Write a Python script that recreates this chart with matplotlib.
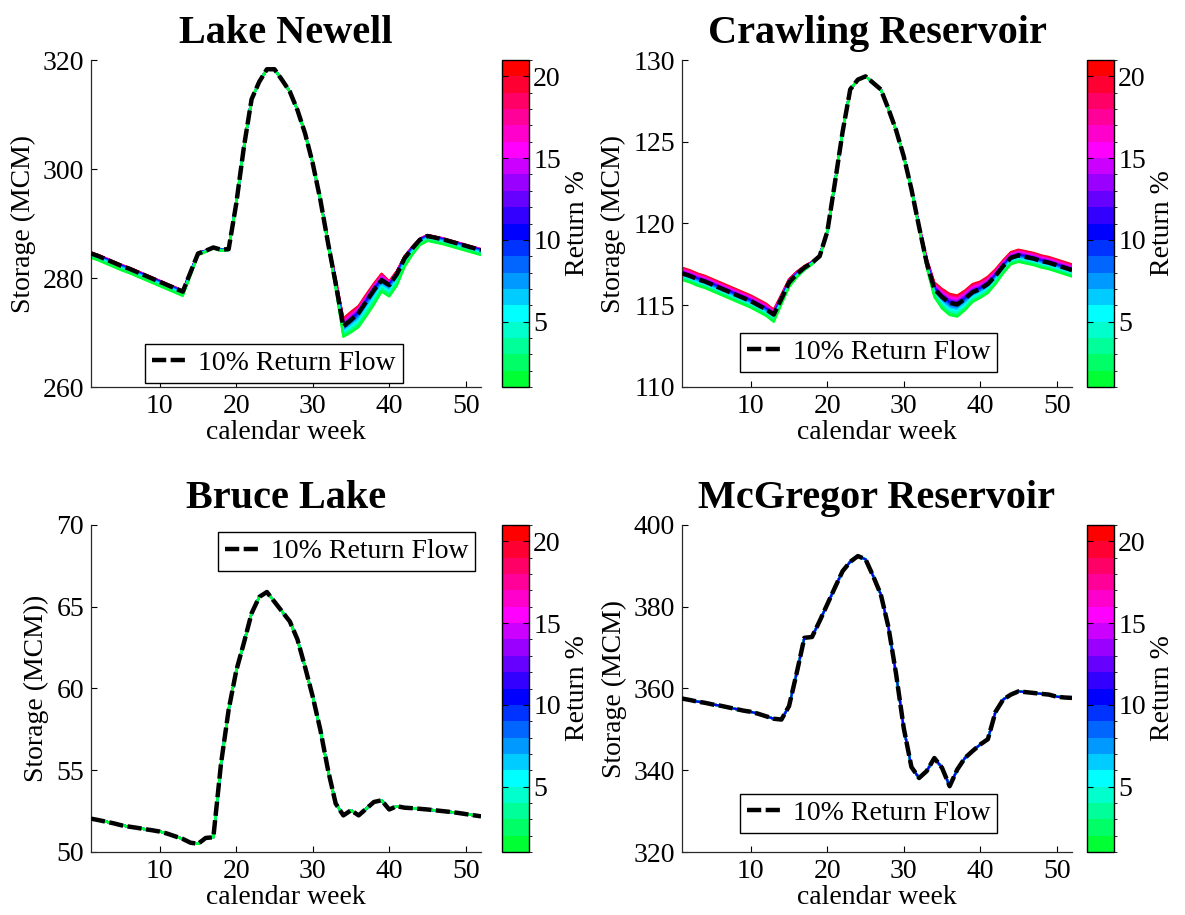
import colorsys
import numpy as np
import matplotlib
matplotlib.use("Agg")
import matplotlib.pyplot as plt
from matplotlib.colors import ListedColormap, BoundaryNorm
from matplotlib.cm import ScalarMappable
from matplotlib.lines import Line2D

plt.rcParams["font.family"] = ["Liberation Serif", "DejaVu Serif"]

weeks = np.arange(1, 53)
return_pcts = np.arange(1, 21)          # return-flow scenarios, %
cbar_ticks = [5, 10, 15, 20]

titles = ["Lake Newell", "Crawling Reservoir", "Bruce Lake", "McGregor Reservoir"]
ylabels = ["Storage (MCM)", "Storage (MCM)", "Storage (MCM))", "Storage (MCM)"]
ylims = [(260, 320), (110, 130), (50, 70), (320, 400)]
yticks = [[260, 280, 300, 320], [110, 115, 120, 125, 130],
          [50, 55, 60, 65, 70], [320, 340, 360, 380, 400]]
xticks = [10, 20, 30, 40, 50]

# weekly storage at 10 % return flow (MCM)
newell_10 = [284.5, 284.0, 283.4, 282.8, 282.2, 281.7, 281.1, 280.5, 279.9, 279.3,
             278.7, 278.1, 277.5, 281.0, 284.5, 285.0, 285.6, 285.2, 285.3, 293.7,
             304.1, 312.8, 316.0, 318.3, 318.3, 316.3, 314.2, 310.8, 306.5, 301.0,
             294.3, 286.4, 279.0, 271.1, 272.3, 273.6, 275.7, 277.8, 279.6, 278.7,
             280.7, 283.6, 285.4, 287.0, 287.7, 287.4, 287.1, 286.7, 286.3, 285.9,
             285.5, 285.1]
crawling_10 = [116.95, 116.8, 116.6, 116.45, 116.25, 116.05, 115.85, 115.65, 115.45, 115.25,
               115.0, 114.75, 114.43, 115.4, 116.4, 116.9, 117.3, 117.6, 118.0, 119.5,
               122.5, 125.6, 128.2, 128.8, 129.0, 128.6, 128.2, 127.0, 125.7, 124.1,
               122.1, 119.8, 117.6, 116.0, 115.5, 115.15, 115.05, 115.4, 115.8, 116.0,
               116.3, 116.8, 117.4, 117.9, 118.05, 117.95, 117.85, 117.7, 117.6, 117.45,
               117.3, 117.15]
bruce_10 = [52.04, 51.95, 51.85, 51.75, 51.63, 51.55, 51.48, 51.4, 51.33, 51.25,
            51.12, 50.96, 50.8, 50.57, 50.5, 50.86, 50.9, 55.4, 58.7, 61.1,
            62.8, 64.6, 65.6, 65.9, 65.3, 64.7, 64.1, 63.0, 61.3, 59.5,
            57.45, 55.0, 52.96, 52.24, 52.55, 52.24, 52.65, 53.06, 53.16, 52.6,
            52.8, 52.71, 52.68, 52.64, 52.6, 52.55, 52.5, 52.45, 52.39, 52.32,
            52.25, 52.18]
mcgregor_10 = [357.55, 357.2, 356.8, 356.5, 356.1, 355.8, 355.4, 355.0, 354.6, 354.3,
               353.8, 353.2, 352.6, 352.4, 355.7, 363.8, 372.4, 372.6, 376.5, 380.6,
               384.7, 388.7, 391.0, 392.4, 391.6, 387.5, 383.0, 375.0, 363.5, 350.3,
               340.8, 338.1, 339.8, 343.0, 340.6, 336.1, 340.2, 343.0, 344.7, 346.3,
               347.6, 354.3, 357.3, 358.5, 359.3, 359.1, 358.9, 358.7, 358.5, 358.0,
               357.8, 357.7]

# storage drop from 10 % down to 1 % return flow (MCM)
newell_drop_1 = [0.8] * 13 + [0.6, 0.3, 0.2, 0.2, 0.2, 0.2] + [0.0] * 12 + \
                [0.5, 1.0, 1.9, 2.3, 2.6, 2.7, 2.7, 2.1, 2.1, 2.1, 1.6, 1.2, 1.0] + [0.9] * 8
crawling_drop_1 = [0.4] * 12 + [0.45, 0.35, 0.3, 0.2, 0.15, 0.1, 0.05] + [0.0] * 12 + \
                  [0.1, 0.3, 0.5, 0.7, 0.75, 0.75, 0.7, 0.6, 0.55, 0.55, 0.5, 0.45] + [0.4] * 9
bruce_drop_1 = [0.0] * 52
mcgregor_drop_1 = [0.0] * 52

# storage gain from 10 % up to 20 % return flow (MCM)
newell_gain_20 = [0.2] * 13 + [0.0] * 18 + \
                 [0.3, 0.8, 1.5, 1.5, 1.3, 1.3, 1.2, 1.2, 0.7, 0.6, 0.4, 0.3] + [0.2] * 9
crawling_gain_20 = [0.35] * 12 + [0.3, 0.25, 0.2, 0.15, 0.1, 0.05, 0.05] + [0.0] * 12 + \
                   [0.1, 0.25, 0.4, 0.5, 0.55, 0.55, 0.5, 0.5, 0.45, 0.45, 0.4, 0.35] + [0.35] * 9
bruce_gain_20 = [0.0] * 52
mcgregor_gain_20 = [0.0] * 52

series_10 = [newell_10, crawling_10, bruce_10, mcgregor_10]
drops = [newell_drop_1, crawling_drop_1, bruce_drop_1, mcgregor_drop_1]
gains = [newell_gain_20, crawling_gain_20, bruce_gain_20, mcgregor_gain_20]
top_line = [1, 1, 1, 10]   # scenario drawn last under the dashed line

# legend anchors (axes fraction)
leg_loc = ["lower center", "lower center", "upper right", "lower center"]
leg_anchor = [(0.469, 0.012), (0.478, 0.046), (0.985, 0.979), (0.478, 0.058)]

# green -> cyan -> blue -> magenta -> red, 20 steps
cmap = ListedColormap([colorsys.hsv_to_rgb((132 + 12 * i) / 360.0, 1, 1) for i in range(20)])
norm = BoundaryNorm(np.arange(1, 22), cmap.N)

W, H = 1185, 915
fig = plt.figure(figsize=(W / 100, H / 100), dpi=100)

ax_px = [(91, 60), (682, 60), (91, 525), (682, 525)]
cb_px = [502, 1087, 502, 1087]
ax_w, ax_h, cb_w = 390, 327, 27
DASH = (3.2, 1.0)


def scenario(base, drop, gain, r):
    base = np.asarray(base)
    if r <= 10:
        return base - np.asarray(drop) * (10 - r) / 9.0
    return base + np.asarray(gain) * (r - 10) / 10.0


for k in range(4):
    x0, y0 = ax_px[k]
    ax = fig.add_axes([x0 / W, 1 - (y0 + ax_h) / H, ax_w / W, ax_h / H])
    cax = fig.add_axes([cb_px[k] / W, 1 - (y0 + ax_h) / H, cb_w / W, ax_h / H])

    order = [r for r in return_pcts[::-1] if r != top_line[k]] + [top_line[k]]
    for r in order:
        ax.plot(weeks, scenario(series_10[k], drops[k], gains[k], r),
                color=cmap(norm(r)), lw=1.6, solid_joinstyle="round", zorder=2)
    ax.plot(weeks, series_10[k], color="black", lw=3.2, dashes=DASH, zorder=3)

    ax.set_xlim(1, 52)
    ax.set_ylim(*ylims[k])
    ax.set_xticks(xticks)
    ax.set_yticks(yticks[k])
    for s in ("top", "right"):
        ax.spines[s].set_visible(False)
    for s in ("left", "bottom"):
        ax.spines[s].set_linewidth(0.9)
        ax.spines[s].set_color("#2a2a2a")
    ax.tick_params(direction="in", length=4, width=0.8, labelsize=20, pad=5)
    ax.set_title(titles[k], fontsize=29, fontweight="bold", pad=12)
    ax.set_xlabel("calendar week", fontsize=20, labelpad=1)
    ax.set_ylabel(ylabels[k], fontsize=20, labelpad=5)

    handle = Line2D([], [], color="black", lw=3.2, dashes=DASH)
    leg = ax.legend([handle], ["10% Return Flow"], loc=leg_loc[k],
                    bbox_to_anchor=leg_anchor[k], fontsize=20, fancybox=False,
                    framealpha=1, edgecolor="black", handlelength=1.3,
                    handletextpad=0.35, borderpad=0.25, borderaxespad=0)
    leg.get_frame().set_linewidth(1.0)

    sm = ScalarMappable(norm=norm, cmap=cmap)
    cb = fig.colorbar(sm, cax=cax, ticks=cbar_ticks)
    cb.outline.set_linewidth(1.0)
    cax.tick_params(direction="in", length=4, width=0.8, labelsize=20, pad=3,
                    left=True, right=True)
    cb.set_label("Return %", fontsize=20, labelpad=3)

fig.savefig("out.png", dpi=100)
